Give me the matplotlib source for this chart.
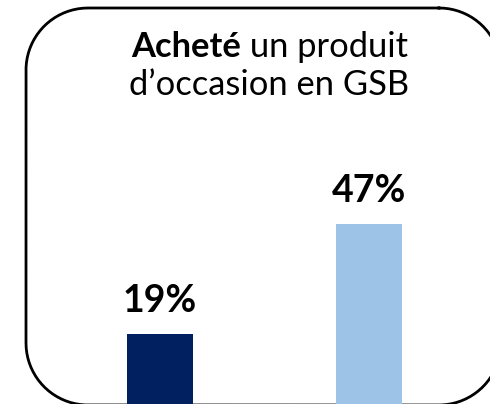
import numpy as np
import matplotlib.pyplot as plt

categories = ['Groupe 1', 'Groupe 2']
values = [19, 47]
labels = ['19%', '47%']
colors = ['#002060', '#9DC3E6']

FONT = ['Lato', 'DejaVu Sans']


def rounded_frame(x0, y0, x1, y1, r, n=40):
    # polyline instead of bezier: agg clips curves badly off-canvas
    pts = []
    corners = [(x1 - r, y0 + r, -90, 0), (x1 - r, y1 - r, 0, 90),
               (x0 + r, y1 - r, 90, 180), (x0 + r, y0 + r, 180, 270)]
    for cx, cy, a0, a1 in corners:
        t = np.radians(np.linspace(a0, a1, n))
        pts += list(zip(cx + r * np.cos(t), cy + r * np.sin(t)))
    pts.append(pts[0])
    return np.array(pts)


fig = plt.figure(figsize=(4.9, 4.04), dpi=100)

# background axes in pixel coords (y down) for frame and title
bg = fig.add_axes([0, 0, 1, 1])
bg.set_xlim(0, 490)
bg.set_ylim(404, 0)
bg.axis('off')
fr = rounded_frame(26, 8, 501, 405, 62)
bg.plot(fr[:, 0], fr[:, 1], color='black', lw=2.0, clip_on=False,
        solid_joinstyle='round')

# bars
ax = fig.add_axes([0, 0, 1, 1])
ax.patch.set_alpha(0)
x = list(range(len(values)))
bars = ax.bar(x, values, width=0.316, color=colors, zorder=3)
ax.set_xlim(-160 / 209, 330 / 209)
ax.set_ylim(1.27, 1.27 + 404 / 3.936)
ax.axis('off')

for b, lab in zip(bars, labels):
    ax.annotate(lab, (b.get_x() + b.get_width() / 2, b.get_height()),
                xytext=(0, 22), textcoords='offset pixels',
                ha='center', va='baseline', fontsize=27,
                fontweight='bold', family=FONT, color='black')

# title, first word bold
t1 = bg.text(131, 57, 'Acheté', fontsize=24.8, fontweight='bold',
             family=FONT, ha='left', va='baseline', color='black')
bg.annotate(' un produit', xy=(1, 0), xycoords=t1, ha='left',
            va='bottom', fontsize=24.8, family=FONT, color='black')
bg.text(269, 95, 'd\u2019occasion en GSB', fontsize=24.8, family=FONT,
        ha='center', va='baseline', color='black')

fig.savefig('out.png', dpi=100)
